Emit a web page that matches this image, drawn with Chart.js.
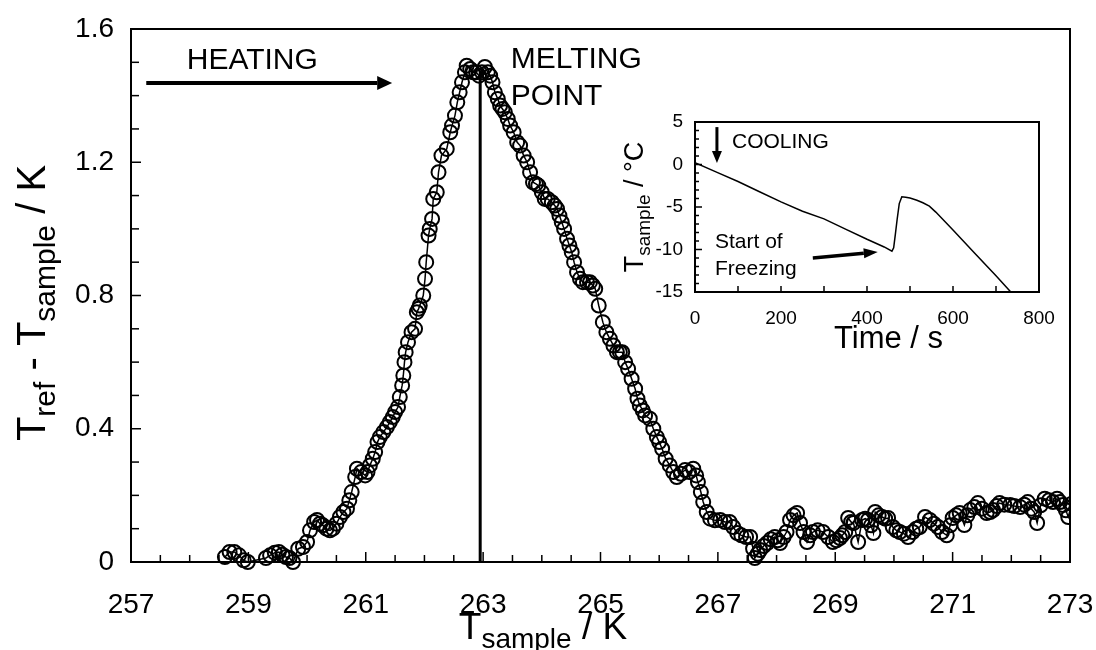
<!DOCTYPE html>
<html>
<head>
<meta charset="utf-8">
<script src="https://cdn.jsdelivr.net/npm/chart.js@4/dist/chart.umd.min.js"></script>
<style>
  body { margin: 0; background: #fff; }
  #wrap { position: relative; width: 1096px; height: 650px; }
  #main { position: absolute; left: 0; top: 0; }
  #inset { position: absolute; left: 600px; top: 100px; }
</style>
</head>
<body>
<div id="wrap">
  <canvas id="main" width="1096" height="650"></canvas>
  <canvas id="inset" width="470" height="270"></canvas>
</div>
<script>
const FONT = '"Liberation Sans", Arial, sans-serif';

// main chart: heating run, T_sample (K) vs T_ref - T_sample (K)
const heatT = [
  258.60, 258.68, 258.76, 258.84, 258.92, 258.99,
  259.30, 259.37, 259.45, 259.52, 259.58, 259.64, 259.70, 259.76, 259.85, 259.93,
  260.00, 260.05, 260.12, 260.17, 260.22, 260.27, 260.33, 260.39, 260.44, 260.50,
  260.56, 260.62, 260.68, 260.72, 260.76, 260.82, 260.85, 260.92, 260.99, 261.03,
  261.07, 261.12, 261.16, 261.20, 261.24, 261.30, 261.36, 261.41, 261.46, 261.50,
  261.55, 261.58, 261.62, 261.64, 261.66, 261.68, 261.72, 261.78, 261.84, 261.87,
  261.90, 261.92, 261.98, 262.01, 262.03, 262.07, 262.09, 262.13, 262.15, 262.21,
  262.24, 262.29, 262.38, 262.44, 262.47, 262.52, 262.56, 262.60, 262.64, 262.69,
  262.72, 262.78, 262.83, 262.88, 262.93, 262.98, 263.03, 263.08, 263.12, 263.16,
  263.20, 263.25, 263.29, 263.33, 263.37, 263.42, 263.46, 263.52, 263.58, 263.63,
  263.69, 263.75, 263.80, 263.85, 263.90, 263.94, 264.00, 264.05, 264.10, 264.17,
  264.22, 264.26, 264.30, 264.34, 264.38, 264.43, 264.47, 264.51, 264.55, 264.60,
  264.65, 264.70, 264.77, 264.82, 264.87, 264.91, 264.97, 265.04, 265.10, 265.16,
  265.22, 265.28, 265.33, 265.37, 265.42, 265.47, 265.53, 265.59, 265.63, 265.67,
  265.72, 265.76, 265.84, 265.90, 265.96, 266.00, 266.05, 266.11, 266.18, 266.24,
  266.30, 266.37, 266.44, 266.51, 266.58, 266.63, 266.66, 266.71, 266.75, 266.81,
  266.87, 266.95, 267.04, 267.12, 267.20, 267.26, 267.33, 267.40, 267.48, 267.55,
  267.60, 267.63, 267.68, 267.72, 267.78, 267.84, 267.90, 267.97, 268.02, 268.06,
  268.12, 268.17, 268.23, 268.29, 268.35, 268.40, 268.46, 268.52, 268.57, 268.62,
  268.70, 268.79, 268.88, 268.96, 269.02, 269.08, 269.12, 269.17, 269.22, 269.27,
  269.31, 269.39, 269.46, 269.51, 269.56, 269.61, 269.65, 269.68, 269.74, 269.80,
  269.85, 269.90, 269.98, 270.04, 270.10, 270.17, 270.24, 270.32, 270.38, 270.44,
  270.53, 270.61, 270.68, 270.75, 270.82, 270.90, 270.96, 271.00, 271.06, 271.12,
  271.20, 271.25, 271.30, 271.37, 271.43, 271.50, 271.58, 271.64, 271.69, 271.75,
  271.80, 271.88, 271.98, 272.05, 272.15, 272.22, 272.28, 272.34, 272.39, 272.44,
  272.50, 272.57, 272.64, 272.71, 272.78, 272.83, 272.88, 272.93, 272.97, 273.03,
  273.08
];
const heatDT = [
  0.015, 0.030, 0.030, 0.020, 0.005, 0.000,
  0.012, 0.020, 0.028, 0.030, 0.022, 0.015, 0.012, 0.000, 0.040, 0.045,
  0.060, 0.095, 0.120, 0.126, 0.115, 0.110, 0.100, 0.095, 0.100, 0.115,
  0.135, 0.150, 0.160, 0.185, 0.210, 0.255, 0.280, 0.270, 0.260, 0.270,
  0.290, 0.310, 0.330, 0.360, 0.375, 0.390, 0.405, 0.420, 0.435, 0.450,
  0.465, 0.495, 0.530, 0.560, 0.600, 0.630, 0.660, 0.690, 0.700, 0.750,
  0.760, 0.770, 0.800, 0.850, 0.900, 0.980, 1.000, 1.030, 1.090, 1.110,
  1.170, 1.220, 1.240, 1.290, 1.310, 1.340, 1.380, 1.410, 1.440, 1.470,
  1.490, 1.480, 1.470, 1.470, 1.460, 1.470, 1.486, 1.470, 1.460, 1.440,
  1.410, 1.390, 1.370, 1.360, 1.350, 1.330, 1.310, 1.290, 1.260, 1.250,
  1.220, 1.200, 1.170, 1.140, 1.135, 1.130, 1.110, 1.090, 1.090, 1.080,
  1.070, 1.060, 1.040, 1.020, 1.000, 0.970, 0.950, 0.930, 0.900, 0.870,
  0.850, 0.840, 0.840, 0.840, 0.830, 0.820, 0.770, 0.720, 0.690, 0.670,
  0.650, 0.630, 0.630, 0.630, 0.600, 0.580, 0.550, 0.520, 0.490, 0.470,
  0.455, 0.440, 0.430, 0.400, 0.375, 0.360, 0.340, 0.310, 0.290, 0.270,
  0.255, 0.265, 0.276, 0.270, 0.280, 0.260, 0.240, 0.210, 0.180, 0.150,
  0.130, 0.125, 0.126, 0.120, 0.120, 0.105, 0.087, 0.080, 0.075, 0.075,
  0.040, 0.012, 0.025, 0.036, 0.048, 0.057, 0.068, 0.075, 0.065, 0.057,
  0.075, 0.090, 0.126, 0.140, 0.147, 0.117, 0.090, 0.060, 0.080, 0.090,
  0.095, 0.090, 0.075, 0.060, 0.065, 0.072, 0.080, 0.090, 0.132, 0.120,
  0.117, 0.060, 0.126, 0.130, 0.126, 0.110, 0.087, 0.150, 0.140, 0.135,
  0.130, 0.132, 0.105, 0.095, 0.090, 0.085, 0.075, 0.090, 0.100, 0.105,
  0.135, 0.126, 0.115, 0.105, 0.090, 0.080, 0.110, 0.132, 0.140, 0.147,
  0.111, 0.140, 0.156, 0.165, 0.177, 0.160, 0.147, 0.150, 0.156, 0.168,
  0.177, 0.172, 0.171, 0.168, 0.165, 0.172, 0.180, 0.160, 0.150, 0.117,
  0.170, 0.190, 0.185, 0.180, 0.190, 0.180, 0.171, 0.155, 0.135, 0.175,
  0.200
];
const meltT = 262.95;
const meltTop = 1.47;

const xTicks = [257, 259, 261, 263, 265, 267, 269, 271, 273];
const yTicks = [0, 0.4, 0.8, 1.2, 1.6];
const yTickLabels = ['0', '0.4', '0.8', '1.2', '1.6'];

// inset: cooling run, time (s) vs T_sample (°C)
const coolTime = [0, 50, 100, 150, 200, 250, 300, 350, 400, 440, 458, 462, 466, 470, 475, 481,
  490, 500, 516, 530, 545, 560, 600, 650, 700, 738];
const coolTemp = [0.2, -0.9, -2.0, -3.2, -4.4, -5.5, -6.4, -7.6, -8.8, -9.7, -10.2, -9.8, -8.2, -6.5, -4.6, -3.8,
  -3.85, -3.95, -4.2, -4.5, -4.9, -5.6, -7.7, -10.4, -13.1, -15.2];
const insetXTicks = [0, 200, 400, 600, 800];
const insetYTicks = [-15, -10, -5, 0, 5];

function richText(ctx, parts, x, y) {
  let w = 0;
  parts.forEach(p => { ctx.font = p.size + 'px ' + FONT; w += ctx.measureText(p.t).width; });
  let cx = x - w / 2;
  ctx.textAlign = 'left';
  ctx.textBaseline = 'alphabetic';
  parts.forEach(p => {
    ctx.font = p.size + 'px ' + FONT;
    ctx.fillText(p.t, cx, y + (p.dy || 0));
    cx += ctx.measureText(p.t).width;
  });
}

function arrow(ctx, x1, y1, x2, y2, lw, head, half) {
  const ang = Math.atan2(y2 - y1, x2 - x1);
  const bx = x2 - head * Math.cos(ang), by = y2 - head * Math.sin(ang);
  ctx.lineWidth = lw;
  ctx.beginPath(); ctx.moveTo(x1, y1); ctx.lineTo(bx, by); ctx.stroke();
  ctx.beginPath();
  ctx.moveTo(x2, y2);
  ctx.lineTo(bx + half * Math.sin(ang), by - half * Math.cos(ang));
  ctx.lineTo(bx - half * Math.sin(ang), by + half * Math.cos(ang));
  ctx.closePath(); ctx.fill();
}

function tick(ctx, x1, y1, x2, y2) {
  ctx.beginPath(); ctx.moveTo(x1, y1); ctx.lineTo(x2, y2); ctx.stroke();
}

// frame, inward ticks, titles and notes for the main plot
const mainDecor = {
  id: 'mainDecor',
  afterDraw(chart) {
    const { ctx, chartArea: a, scales: { x, y } } = chart;
    ctx.save();
    ctx.strokeStyle = '#000';
    ctx.fillStyle = '#000';
    ctx.lineWidth = 2;
    ctx.strokeRect(a.left, a.top, a.right - a.left, a.bottom - a.top);
    ctx.lineWidth = 1.5;
    for (let k = 0; k <= 32; k++) {
      const v = 257 + k * 0.5;
      const px = x.getPixelForValue(v);
      tick(ctx, px, a.bottom, px, a.bottom - (k % 4 === 0 ? 10 : 7));
    }
    for (let k = 0; k <= 16; k++) {
      const py = y.getPixelForValue(k / 10);
      tick(ctx, a.left, py, a.left + (k % 4 === 0 ? 10 : 8), py);
    }

    // axis titles
    richText(ctx, [
      { t: 'T', size: 37 }, { t: 'sample', size: 28, dy: 9 }, { t: ' / K', size: 37 }
    ], x.getPixelForValue(264.02), a.bottom + 77);
    ctx.save();
    ctx.translate(45, 303);
    ctx.rotate(-Math.PI / 2);
    richText(ctx, [
      { t: 'T', size: 40 }, { t: 'ref', size: 30, dy: 10 }, { t: ' - T', size: 40 },
      { t: 'sample', size: 30, dy: 10 }, { t: ' / K', size: 40 }
    ], 0, 0);
    ctx.restore();

    // notes
    ctx.font = '30px ' + FONT;
    ctx.textAlign = 'left';
    ctx.textBaseline = 'alphabetic';
    ctx.fillText('HEATING', x.getPixelForValue(257.95), y.getPixelForValue(1.48));
    ctx.fillText('MELTING', x.getPixelForValue(263.47), y.getPixelForValue(1.483));
    ctx.fillText('POINT', x.getPixelForValue(263.47), y.getPixelForValue(1.372));
    arrow(ctx, x.getPixelForValue(257.26), y.getPixelForValue(1.438),
      x.getPixelForValue(261.45), y.getPixelForValue(1.438), 4, 15, 7);
    ctx.restore();
  }
};

const insetDecor = {
  id: 'insetDecor',
  afterDraw(chart) {
    const { ctx, chartArea: a, scales: { x, y } } = chart;
    ctx.save();
    ctx.strokeStyle = '#000';
    ctx.fillStyle = '#000';
    ctx.lineWidth = 2;
    ctx.strokeRect(a.left, a.top, a.right - a.left, a.bottom - a.top);
    ctx.lineWidth = 1.5;
    for (let v = 0; v <= 800; v += 100) {
      const px = x.getPixelForValue(v);
      tick(ctx, px, a.bottom, px, a.bottom - 6);
    }
    for (let v = -15; v <= 5; v++) {
      const py = y.getPixelForValue(v);
      tick(ctx, a.left, py, a.left + (v % 5 === 0 ? 7 : 4), py);
    }
    richText(ctx, [{ t: 'Time / s', size: 31 }], x.getPixelForValue(450), a.bottom + 56);
    ctx.save();
    ctx.translate(a.left - 52, (a.top + a.bottom) / 2);
    ctx.rotate(-Math.PI / 2);
    richText(ctx, [
      { t: 'T', size: 27 }, { t: 'sample', size: 19, dy: 7 }, { t: ' / \u00B0C', size: 27 }
    ], 0, 0);
    ctx.restore();

    ctx.font = '21px ' + FONT;
    ctx.textAlign = 'left';
    ctx.fillText('COOLING', x.getPixelForValue(86), y.getPixelForValue(1.94));
    ctx.fillText('Start of', x.getPixelForValue(46.5), y.getPixelForValue(-9.8));
    ctx.fillText('Freezing', x.getPixelForValue(46.5), y.getPixelForValue(-13));
    arrow(ctx, x.getPixelForValue(51), y.getPixelForValue(4.4),
      x.getPixelForValue(51), y.getPixelForValue(0.18), 3, 12, 5);
    arrow(ctx, x.getPixelForValue(274), y.getPixelForValue(-11),
      x.getPixelForValue(425), y.getPixelForValue(-10.3), 3.5, 14, 5);
    ctx.restore();
  }
};

new Chart(document.getElementById('main'), {
  type: 'scatter',
  data: {
    datasets: [{
      data: heatT.map((t, i) => ({ x: t, y: heatDT[i] })),
      showLine: true,
      borderColor: '#000',
      borderWidth: 1.5,
      pointRadius: 7,
      pointBorderWidth: 2,
      pointBorderColor: '#000',
      pointBackgroundColor: 'rgba(0,0,0,0)',
      clip: { left: 10, top: 10, right: 0, bottom: 10 }
    }, {
      data: [{ x: meltT, y: 0 }, { x: meltT, y: meltTop }],
      showLine: true,
      borderColor: '#000',
      borderWidth: 3,
      pointRadius: 0
    }]
  },
  options: {
    responsive: false,
    animation: false,
    layout: { padding: { top: 29, right: 26, left: 0, bottom: 0 } },
    plugins: { legend: { display: false }, tooltip: { enabled: false } },
    scales: {
      x: {
        type: 'linear', min: 257, max: 273,
        afterFit(s) { s.height = 88; s.paddingLeft = 0; s.paddingRight = 0; },
        afterBuildTicks(s) { s.ticks = xTicks.map(v => ({ value: v })); },
        grid: { display: false, drawTicks: false },
        border: { display: false },
        ticks: { color: '#000', font: { family: FONT, size: 28 }, padding: 26, maxRotation: 0, autoSkip: false }
      },
      y: {
        type: 'linear', min: 0, max: 1.6,
        afterFit(s) { s.width = 131; s.paddingTop = 0; s.paddingBottom = 0; },
        afterBuildTicks(s) { s.ticks = yTicks.map(v => ({ value: v })); },
        grid: { display: false, drawTicks: false },
        border: { display: false },
        ticks: {
          color: '#000', font: { family: FONT, size: 28 }, padding: 17, autoSkip: false,
          callback: (v, i) => yTickLabels[i]
        }
      }
    }
  },
  plugins: [mainDecor]
});

new Chart(document.getElementById('inset'), {
  type: 'scatter',
  data: {
    datasets: [{
      data: coolTime.map((t, i) => ({ x: t, y: coolTemp[i] })),
      showLine: true,
      borderColor: '#000',
      borderWidth: 1.5,
      pointRadius: 0
    }]
  },
  options: {
    responsive: false,
    animation: false,
    layout: { padding: { top: 22, right: 31, left: 0, bottom: 0 } },
    plugins: { legend: { display: false }, tooltip: { enabled: false } },
    scales: {
      x: {
        type: 'linear', min: 0, max: 800,
        afterFit(s) { s.height = 78; s.paddingLeft = 0; s.paddingRight = 0; },
        afterBuildTicks(s) { s.ticks = insetXTicks.map(v => ({ value: v })); },
        grid: { display: false, drawTicks: false },
        border: { display: false },
        ticks: { color: '#000', font: { family: FONT, size: 19 }, padding: 15, maxRotation: 0, autoSkip: false }
      },
      y: {
        type: 'linear', min: -15, max: 5,
        afterFit(s) { s.width = 95; s.paddingTop = 0; s.paddingBottom = 0; },
        afterBuildTicks(s) { s.ticks = insetYTicks.map(v => ({ value: v })); },
        grid: { display: false, drawTicks: false },
        border: { display: false },
        ticks: { color: '#000', font: { family: FONT, size: 19 }, padding: 12, autoSkip: false }
      }
    }
  },
  plugins: [insetDecor]
});
</script>
</body>
</html>
